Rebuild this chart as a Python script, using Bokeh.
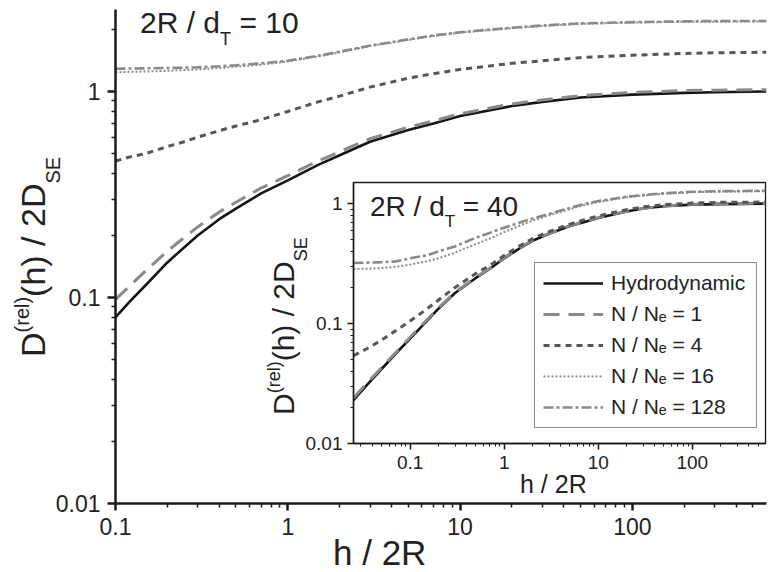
import math
from bokeh.plotting import figure
from bokeh.models import (FixedTicker, CustomJSTickFormatter, Legend, LegendItem,
                          GridBox, Range1d, Div)
from bokeh.embed import file_html
from bokeh.resources import INLINE

# ---------------- data ----------------
# main panel: 2R / d_T = 10
MAIN_X = [0.1, 0.12, 0.15, 0.2, 0.25, 0.3, 0.4, 0.5, 0.7, 1, 1.5, 2, 3, 5, 7, 10, 20, 30, 50,
          100, 200, 300, 600]
MAIN_HYDRO = [0.080, 0.095, 0.115, 0.148, 0.175, 0.20, 0.24, 0.27, 0.32, 0.37, 0.44, 0.49,
              0.57, 0.65, 0.70, 0.76, 0.85, 0.89, 0.935, 0.965, 0.985, 0.992, 1.0]
MAIN_N1 = [0.098, 0.113, 0.135, 0.168, 0.195, 0.22, 0.26, 0.29, 0.34, 0.39, 0.46, 0.51, 0.59,
           0.67, 0.72, 0.78, 0.87, 0.91, 0.955, 0.99, 1.01, 1.015, 1.02]
MAIN_N4 = [0.46, 0.48, 0.50, 0.54, 0.57, 0.60, 0.645, 0.68, 0.73, 0.80, 0.89, 0.95, 1.05,
           1.16, 1.22, 1.28, 1.37, 1.41, 1.46, 1.50, 1.53, 1.54, 1.55]
MAIN_N16 = [1.24, 1.245, 1.25, 1.26, 1.27, 1.28, 1.30, 1.32, 1.35, 1.40, 1.48, 1.55, 1.66,
            1.78, 1.86, 1.93, 2.03, 2.08, 2.13, 2.16, 2.18, 2.18, 2.19]
MAIN_N128 = [1.29, 1.292, 1.295, 1.30, 1.305, 1.31, 1.325, 1.34, 1.37, 1.41, 1.49, 1.56, 1.67,
             1.79, 1.87, 1.94, 2.04, 2.09, 2.14, 2.17, 2.19, 2.20, 2.20]

# inset: 2R / d_T = 40
INS_X = [0.025, 0.035, 0.05, 0.07, 0.1, 0.15, 0.2, 0.3, 0.5, 0.7, 1, 1.5, 2, 3, 5, 7, 10,
         20, 30, 50, 100, 200, 600]
INS_HYDRO = [0.023, 0.031, 0.042, 0.056, 0.075, 0.105, 0.133, 0.18, 0.24, 0.285, 0.35, 0.43,
             0.49, 0.56, 0.65, 0.70, 0.76, 0.86, 0.91, 0.95, 0.98, 0.99, 1.0]
INS_N1 = [0.024, 0.032, 0.043, 0.057, 0.077, 0.107, 0.135, 0.182, 0.243, 0.288, 0.355, 0.435,
          0.495, 0.565, 0.655, 0.705, 0.765, 0.865, 0.915, 0.955, 0.99, 1.0, 1.01]
INS_N4 = [0.054, 0.062, 0.073, 0.087, 0.105, 0.132, 0.157, 0.20, 0.262, 0.305, 0.37, 0.45,
          0.51, 0.585, 0.675, 0.73, 0.79, 0.89, 0.94, 0.98, 1.01, 1.025, 1.03]
INS_N16 = [0.285, 0.287, 0.29, 0.297, 0.31, 0.33, 0.35, 0.39, 0.46, 0.51, 0.58, 0.66, 0.72,
           0.80, 0.90, 0.97, 1.03, 1.13, 1.17, 1.21, 1.245, 1.26, 1.27]
INS_N128 = [0.32, 0.322, 0.325, 0.33, 0.35, 0.37, 0.40, 0.44, 0.52, 0.57, 0.63, 0.70, 0.75,
            0.82, 0.92, 0.99, 1.05, 1.14, 1.18, 1.22, 1.255, 1.27, 1.28]

SERIES_LABELS = ["Hydrodynamic", "N / N\u2091 = 1", "N / N\u2091 = 4", "N / N\u2091 = 16",
                 "N / N\u2091 = 128"]

X_MAJOR = [0.1, 1, 10, 100]
INS_X_MAJOR = [0.1, 1, 10, 100]
Y_MAJOR = [0.01, 0.1, 1]

FONT = "Liberation Sans"
TXT = "#222222"

STYLES = [
    dict(line_color="#151515", line_width=2.6, line_dash="solid"),
    dict(line_color="#8a8a8a", line_width=3.0, line_dash="16 9"),
    dict(line_color="#565656", line_width=3.0, line_dash="6 5"),
    dict(line_color="#8a8a8a", line_width=2.0, line_dash="2 2"),
    dict(line_color="#8a8a8a", line_width=2.6, line_dash="10 3 3 3"),
]

W, H = 772, 570                  # page area used
INS_L, INS_T = 262, 178          # inset canvas top-left on the page
INS_W, INS_H = 506, 322          # inset canvas size
ASC = 0.8465                     # baseline offset (fraction of font size) for line-height 1


def minor_ticks(lo, hi):
    out = []
    e = math.floor(math.log10(lo))
    while 10 ** e <= hi:
        for m in range(2, 10):
            v = round(m * 10 ** e, 8)
            if lo < v < hi:
                out.append(v)
        e += 1
    return out


def style_axis(ax, lw, tick_out, minor_out, font_size, standoff):
    ax.axis_line_width = lw
    ax.axis_line_color = "#1a1a1a"
    ax.major_tick_line_width = lw
    ax.major_tick_line_color = "#1a1a1a"
    ax.minor_tick_line_width = max(1.0, lw * 0.6)
    ax.minor_tick_line_color = "#1a1a1a"
    ax.major_tick_out = tick_out
    ax.major_tick_in = 0
    ax.minor_tick_out = minor_out
    ax.minor_tick_in = 0
    ax.major_label_text_font = FONT
    ax.major_label_text_font_size = f"{font_size}px"
    ax.major_label_text_color = TXT
    ax.major_label_standoff = standoff
    ax.formatter = CustomJSTickFormatter(code="return tick.toString();")
    ax.axis_label = None


# ---------------- main figure ----------------
p = figure(width=W, height=H, x_axis_type="log", y_axis_type="log",
           x_range=Range1d(0.1, 600), y_range=Range1d(0.01, 2.5),
           output_backend="svg", toolbar_location=None,
           min_border_left=115, min_border_right=6, min_border_top=9, min_border_bottom=67)
p.outline_line_color = None
p.grid.visible = False
p.background_fill_color = "white"
p.border_fill_color = "white"

p.xaxis.ticker = FixedTicker(ticks=X_MAJOR, minor_ticks=minor_ticks(0.1, 600))
p.yaxis.ticker = FixedTicker(ticks=Y_MAJOR, minor_ticks=minor_ticks(0.01, 2.5))
style_axis(p.xaxis[0], 2.5, 7, 4, 23, 7)
style_axis(p.yaxis[0], 2.5, 8, 4, 23, 7)

for ys, st in zip([MAIN_HYDRO, MAIN_N1, MAIN_N4, MAIN_N16, MAIN_N128], STYLES):
    p.line(MAIN_X, ys, **st)

# ---------------- inset figure ----------------
q = figure(width=INS_W, height=INS_H, x_axis_type="log", y_axis_type="log",
           x_range=Range1d(0.025, 600), y_range=Range1d(0.01, 1.5),
           output_backend="svg", toolbar_location=None,
           min_border_left=91, min_border_right=3, min_border_top=4, min_border_bottom=57)
q.border_fill_color = None
q.background_fill_color = "white"
q.outline_line_color = "#1a1a1a"
q.outline_line_width = 1.3
q.grid.visible = False

q.xaxis.ticker = FixedTicker(ticks=INS_X_MAJOR, minor_ticks=minor_ticks(0.025, 600))
q.yaxis.ticker = FixedTicker(ticks=Y_MAJOR, minor_ticks=minor_ticks(0.01, 1.5))
style_axis(q.xaxis[0], 1.5, 6, 3, 19, 6)
style_axis(q.yaxis[0], 1.5, 6, 3, 19, 5)

renderers = []
for ys, st in zip([INS_HYDRO, INS_N1, INS_N4, INS_N16, INS_N128], STYLES):
    renderers.append(q.line(INS_X, ys, **st))

legend = Legend(items=[LegendItem(label=lab, renderers=[r])
                       for lab, r in zip(SERIES_LABELS, renderers)],
                location=(181, 15))
legend.border_line_color = "#1a1a1a"
legend.border_line_width = 1.3
legend.background_fill_color = "white"
legend.background_fill_alpha = 1.0
legend.label_text_font = FONT
legend.label_text_font_size = "21px"
legend.label_text_color = TXT
legend.glyph_width = 60
legend.glyph_height = 24
legend.label_height = 24
legend.label_width = 137
legend.spacing = 7
legend.padding = 8
legend.margin = 0
legend.label_standoff = 8
q.add_layout(legend)

# ---------------- composed texts (HTML overlay) ----------------


def sub(t, size, dy):
    return (f'<span style="position:relative;top:{dy}px;font-size:{size}px">{t}</span>')


def block(html, size, x, baseline, vertical=False):
    if vertical:
        # rotated -90deg about the top-left corner: text reads bottom-to-top,
        # (x, baseline) = (baseline x position, start y position)
        left, top = x - ASC * size, baseline
        rot = "transform-origin:0 0;transform:rotate(-90deg);"
    else:
        left, top = x, baseline - ASC * size
        rot = ""
    return (f'<div style="position:absolute;left:{left:.1f}px;top:{top:.1f}px;'
            f'font-size:{size}px;line-height:1;white-space:nowrap;{rot}">{html}</div>')


parts = [
    # main panel
    block("2R / d" + sub("T", 18, 12) + " = 10", 30, 140, 33),
    block("D" + sub("(rel)", 20, -16) + "(h) / 2D" + sub("SE", 20, 15), 34, 45, 357,
          vertical=True),
    block("h / 2R", 35, 333, 565),
    # inset
    block("2R / d" + sub("T", 17, 11) + " = 40", 28, 370, 217),
    block("D" + sub("(rel)", 18, -14) + "(h) / 2D" + sub("SE", 18, 13), 30, 294, 415,
          vertical=True),
    block("h / 2R", 25, 520, 493),
]
html = (f'<div style="position:relative;width:{W}px;height:{H}px;'
        f"font-family:'{FONT}';color:{TXT};pointer-events:none\">" + "".join(parts) + "</div>")
texts = Div(text=html, width=W, height=H, margin=(0, 0, 0, 0))

# grid: the inset sits in its own tracks so its frame is not aligned with the main one
layout = GridBox(children=[(p, 0, 0, 3, 3), (q, 1, 1), (texts, 0, 0, 3, 3)],
                 rows=[f"{INS_T}px", f"{INS_H}px", f"{H - INS_T - INS_H}px"],
                 cols=[f"{INS_L}px", f"{INS_W}px", f"{W - INS_L - INS_W}px"],
                 spacing=0)

with open("out.html", "w") as f:
    f.write(file_html(layout, INLINE))
